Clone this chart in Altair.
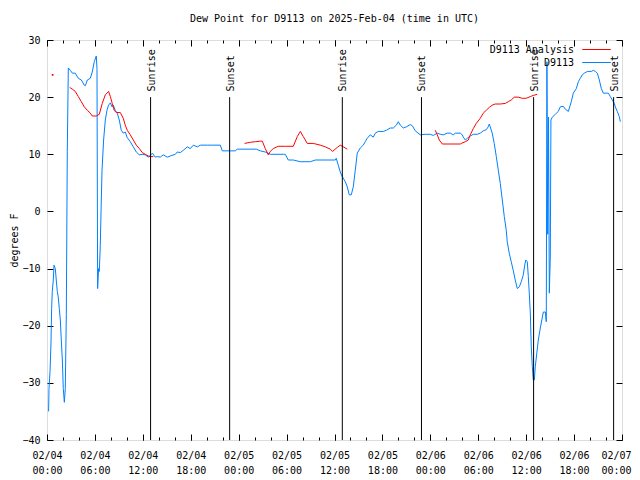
import json
import altair as alt
import pandas as pd

title_text = "Dew Point for D9113 on 2025-Feb-04 (time in UTC)"
y_title = "degrees F"
series_names = ["D9113 Analysis", "D9113"]
series_colors = ["#ff0000", "#0080ff"]

# hours since 2025-02-04 00:00 UTC
obs_hours = [0.2, 0.25, 0.38, 0.5, 0.58, 0.66, 0.79, 0.88, 1.04, 1.16, 1.29, 1.41, 1.54, 1.67, 1.79, 1.92,
             2.04, 2.17, 2.29, 2.42, 2.54, 2.67, 2.92, 3.17, 3.54, 3.92, 4.3, 4.67, 4.8, 5.05, 5.42, 5.67,
             5.92, 6.17, 6.26, 6.34, 6.46, 6.55, 6.67, 6.8, 6.89, 7.09, 7.3, 7.51, 7.71, 7.93, 8.14, 8.3,
             8.55, 8.8, 9.05, 9.3, 9.55, 9.8, 10.05, 10.43, 10.81, 11.18, 11.56, 11.93, 12.31, 12.68, 12.94,
             13.19, 13.56, 13.81, 14.19, 14.56, 15.06, 15.44, 16.07, 16.32, 16.69, 17.07, 17.57, 17.95,
             18.32, 18.82, 19.2, 20.07, 20.7, 21.7, 21.95, 22.95, 23.58, 23.83, 25.46, 26.21, 26.71, 27.33,
             27.96, 29.59, 29.84, 30.21, 30.84, 31.72, 32.97, 33.6, 34.85, 36.1, 36.22, 36.47, 36.72, 36.97,
             37.35, 37.6, 37.85, 38.1, 38.35, 38.6, 38.85, 39.23, 39.6, 39.85, 40.1, 40.48, 40.86, 41.11,
             41.48, 42.11, 42.49, 42.99, 43.36, 43.74, 43.99, 44.24, 44.61, 44.99, 45.49, 45.74, 46.12,
             46.74, 47.37, 47.99, 48.37, 48.87, 49.25, 49.62, 50.12, 50.5, 50.87, 51.12, 51.75, 52.0,
             52.13, 52.38, 52.63, 53.0, 53.38, 53.88, 54.25, 54.63, 55.0, 55.25, 55.38, 55.5, 55.75, 56.0,
             56.26, 56.51, 56.76, 57.01, 57.26, 57.51, 57.63, 57.88, 58.13, 58.38, 58.63, 58.89, 59.14,
             59.39, 59.64, 59.82, 59.95, 60.14, 60.27, 60.39, 60.52, 60.64, 60.77, 60.89, 61.02, 61.14,
             61.33, 61.52, 61.77, 61.96, 62.15, 62.4, 62.52, 62.6, 62.7, 62.8, 62.9, 63.02, 63.1, 63.27,
             63.65, 64.02, 64.27, 64.65, 64.9, 65.28, 65.65, 65.9, 66.28, 66.53, 66.78, 67.03, 67.28,
             67.66, 68.16, 68.41, 68.66, 68.91, 69.16, 69.41, 69.66, 70.04, 70.29, 70.54, 70.79, 71.04,
             71.16, 71.41, 71.66, 71.79]
obs_dewpt = [-35, -31, -28, -23, -17, -14, -12, -9.4, -10, -12, -14, -15, -17, -19, -22.5, -26,
             -31, -33.4, -31, -18, 10.5, 25.1, 24.7, 24.2, 24.2, 23.3, 23, 22.1, 22, 23, 23.3, 24.4,
             26.2, 27.2, 25, -13.5, -10, -10.5, -6, 2, 7.2, 12.5, 16, 17.7, 18.6, 19, 18.3, 18.6,
             17.7, 17.2, 16, 14.2, 13.7, 13.9, 12.9, 12.2, 11.3, 10.4, 9.9, 10, 9.9, 9.5, 9.8,
             10.2, 9.5, 9.6, 9.5, 9.9, 9.5, 9.7, 10, 10.4, 10.3, 10.7, 11.3, 11,
             11.6, 11.3, 11.6, 11.6, 11.6, 11.6, 10.6, 10.6, 10.6, 10.9, 10.9, 10.9, 10.6, 10.4,
             10, 10, 10, 9, 9, 8.7, 8.7, 9, 9, 9, 9.3, 8.1, 6.9, 6.1,
             5.2, 4.3, 2.9, 2.9, 4.3, 7.2, 10.2, 11.1, 11.6, 12.2, 12.8, 13.4, 13, 13.7,
             14, 14, 14.2, 14.6, 14.6, 15.1, 15.7, 15.1, 14.6, 14.8, 15.2, 15, 14.1,
             13.4, 13.5, 13.5, 13.3, 13.7, 13.5, 13.4, 13.7, 13.7, 13.4, 13.7, 13.7, 13.4,
             13, 12.5, 12.8, 13.2, 13.5, 13.5, 13.7, 14.1, 14.3, 14.8, 15.3, 14.8, 13.7, 11.9,
             9.6, 7.2, 4.9, 2, -0.9, -3.3, -5.3, -7.3, -8.8, -10.3, -12, -13.5, -13.2,
             -12.3, -11.1, -9.4, -8.5, -8.8, -11.4, -14.3, -17.8, -23.7, -27.2, -29.5, -29.5, -27.2,
             -24.8, -22.5, -20.4, -19, -17.6, -17.6, -19.3, 26.2, -4, 16.5, -14.3, -8, 16, 16.5,
             17, 17.5, 18.3, 18.4, 17.9, 17.5, 19.2, 20.7, 21.5, 22.7, 23.3, 23.9, 24.2,
             24.5, 24.5, 24.7, 24.5, 24.2, 23, 21.5, 20.7, 20.7, 20.7, 20.1, 19.5, 18.9,
             18.3, 17.5, 16.6, 15.7]

ana_seg1_hours = [2.84, 3.17, 3.54, 3.92, 4.3, 4.67, 5.05, 5.42, 5.67, 6.17, 6.55, 6.92, 7.3, 7.71, 7.93,
                  8.17, 8.42, 8.67, 9.18, 9.55, 9.8, 10.05, 10.43, 10.81, 11.18, 11.56, 11.93, 12.31,
                  12.68, 12.94, 13.31]
ana_seg1_dewpt = [21.7, 21.4, 21, 20.1, 19.2, 18.3, 17.7, 17.2, 16.7, 16.7, 17, 18.9, 20.4, 21, 20.1,
                  18.9, 17.7, 17.3, 17.3, 16.3, 15.1, 14.2, 13.4, 12.5, 11.6, 11, 10.3, 10,
                  9.7, 9.6, 9.6]
ana_seg2_hours = [24.74, 25.46, 26.08, 26.71, 26.96, 27.33, 27.71, 27.96, 28.33, 28.96, 29.84, 30.84,
                  31.34, 31.72, 32.09, 32.59, 33.35, 34.22, 34.85, 35.47, 35.75, 36.35, 36.72, 37.1, 37.6]
ana_seg2_dewpt = [11.9, 12.1, 12.2, 12.3, 12.3, 11, 9.9, 10.5, 11, 11.4, 11.4, 11.4,
                  13.1, 14, 13.1, 11.9, 11.9, 11.6, 11.3, 10.9, 10.5, 11.2, 11.6, 11.3, 10.9]
ana_seg3_hours = [48.62, 48.87, 49.12, 49.5, 50.5, 51.75, 51.87, 52.38, 52.75, 53.0, 53.38, 53.75,
                  54.25, 54.63, 55.0, 55.38, 55.75, 56.13, 56.76, 57.38, 57.76, 58.13, 58.51, 59.01,
                  59.51, 60.01, 60.52, 60.89, 61.39]
ana_seg3_dewpt = [14.2, 13.4, 12.5, 11.8, 11.8, 11.8, 11.9, 12.2, 12.5, 13.4, 14.5, 15.4,
                  16.3, 17.2, 17.7, 18.2, 18.6, 18.8, 18.8, 18.9, 19.2, 19.5, 20, 20,
                  19.8, 19.8, 20.1, 20.3, 20.5]
ana_dot_hours = [0.7]
ana_dot_dewpt = [23.9]

sun_hours = [12.97, 22.87, 36.98, 46.89, 60.93, 70.95]
sun_labels = ["Sunrise", "Sunset", "Sunrise", "Sunset", "Sunrise", "Sunset"]

major_ticks = [0, 6, 12, 18, 24, 30, 36, 42, 48, 54, 60, 66, 72]
minor_ticks = list(range(0, 73, 2))
tick_dates = ["02/04", "02/04", "02/04", "02/04", "02/05", "02/05", "02/05", "02/05",
              "02/06", "02/06", "02/06", "02/06", "02/07"]
tick_times = ["00:00", "06:00", "12:00", "18:00", "00:00", "06:00", "12:00", "18:00",
              "00:00", "06:00", "12:00", "18:00", "00:00"]
y_ticks = [-40, -30, -20, -10, 0, 10, 20, 30]

FONT = "DejaVu Sans Mono"

obs_df = pd.DataFrame({"h": obs_hours, "v": obs_dewpt, "series": series_names[1]})
ana_df = pd.concat([
    pd.DataFrame({"h": ana_seg1_hours, "v": ana_seg1_dewpt, "seg": 1}),
    pd.DataFrame({"h": ana_seg2_hours, "v": ana_seg2_dewpt, "seg": 2}),
    pd.DataFrame({"h": ana_seg3_hours, "v": ana_seg3_dewpt, "seg": 3}),
])
ana_df["series"] = series_names[0]
dot_df = pd.DataFrame({"h": ana_dot_hours, "v": ana_dot_dewpt})
sun_df = pd.DataFrame({"h": sun_hours, "label": sun_labels})

xs = alt.Scale(domain=[0, 72], nice=False, zero=False)
ys = alt.Scale(domain=[-40, 30], nice=False, zero=False)

label_expr = "[{d}[round(datum.value/6)], {t}[round(datum.value/6)]]".format(
    d=json.dumps(tick_dates), t=json.dumps(tick_times))

ax_bottom_labels = alt.Axis(orient="bottom", values=major_ticks, labelExpr=label_expr, labelFont=FONT,
                            labelFontSize=10, labelColor="black", labelPadding=10, labelLineHeight=15,
                            labelBaseline="top", labelOverlap=False, labelFlush=False, ticks=False,
                            labelOffset={"condition": {"test": "datum.value >= 72", "value": -6},
                                         "value": 0},
                            domain=False, grid=False, title=None)
def tick_axis(orient, values, size):
    return alt.Axis(orient=orient, values=values, offset=-size, tickSize=size, tickColor="black",
                    tickWidth=1, labels=False, domain=False, grid=False, title=None)

ax_left_labels = alt.Axis(orient="left", values=y_ticks, labelFont=FONT, labelFontSize=10,
                          labelColor="black", labelPadding=7, ticks=False, domain=False, grid=False,
                          title=y_title, titleFont=FONT, titleFontSize=10, titleFontWeight="normal",
                          titleColor="black", titleAngle=270, titleX=-33, titleY=200,
                          titleAlign="center", titleBaseline="middle")

color = alt.Color("series:N", scale=alt.Scale(domain=series_names, range=series_colors),
                  legend=alt.Legend(title=None, orient="none", legendX=544, legendY=4,
                                    symbolType="M-2.85,0H2.85", symbolSize=100, symbolStrokeWidth=1,
                                    symbolFillColor="transparent",
                                    labelAlign="right", labelOffset={"expr": "-28"}, labelFont=FONT,
                                    labelFontSize=10, labelColor="black", padding=0, rowPadding=2))

obs_line = alt.Chart(obs_df).mark_line(strokeWidth=1).encode(
    x=alt.X("h:Q", scale=xs, axis=ax_bottom_labels),
    y=alt.Y("v:Q", scale=ys, axis=ax_left_labels),
    color=color,
)
ana_line = alt.Chart(ana_df).mark_line(strokeWidth=1).encode(
    x=alt.X("h:Q", scale=xs, axis=tick_axis("bottom", major_ticks, 6)),
    y=alt.Y("v:Q", scale=ys, axis=tick_axis("left", y_ticks, 6)),
    color=color,
    detail="seg:N",
)
ana_dot = alt.Chart(dot_df).mark_square(size=3, color=series_colors[0], opacity=1).encode(
    x=alt.X("h:Q", scale=xs, axis=tick_axis("bottom", minor_ticks, 3)),
    y=alt.Y("v:Q", scale=ys, axis=tick_axis("right", y_ticks, 6)),
)
sun_rules = alt.Chart(sun_df).mark_rule(color="black", strokeWidth=1).encode(
    x=alt.X("h:Q", scale=xs, axis=tick_axis("top", major_ticks, 6)),
    y=alt.datum(-40, scale=ys, axis=None),
    y2=alt.datum(20),
)
sun_text = alt.Chart(sun_df).mark_text(angle=270, align="left", baseline="middle", font=FONT,
                                       fontSize=10, color="black", dy=1).encode(
    x=alt.X("h:Q", scale=xs, axis=tick_axis("top", minor_ticks, 3)),
    y=alt.datum(21, scale=ys, axis=None),
    text="label:N",
)

chart = alt.layer(obs_line, ana_line, ana_dot, sun_rules, sun_text).resolve_axis(
    x="independent", y="independent"
).properties(
    width=575, height=400,
    title=alt.TitleParams(title_text, font=FONT, fontSize=10, fontWeight="normal", color="black",
                          anchor="middle", offset=11),
    autosize=alt.AutoSizeParams(type="none"),
    padding={"left": 39, "top": 32, "right": 10, "bottom": 40},
).configure_view(stroke="black", strokeWidth=1).configure(background="white")

chart.save("out.html", embed_options={"renderer": "svg", "actions": False})
